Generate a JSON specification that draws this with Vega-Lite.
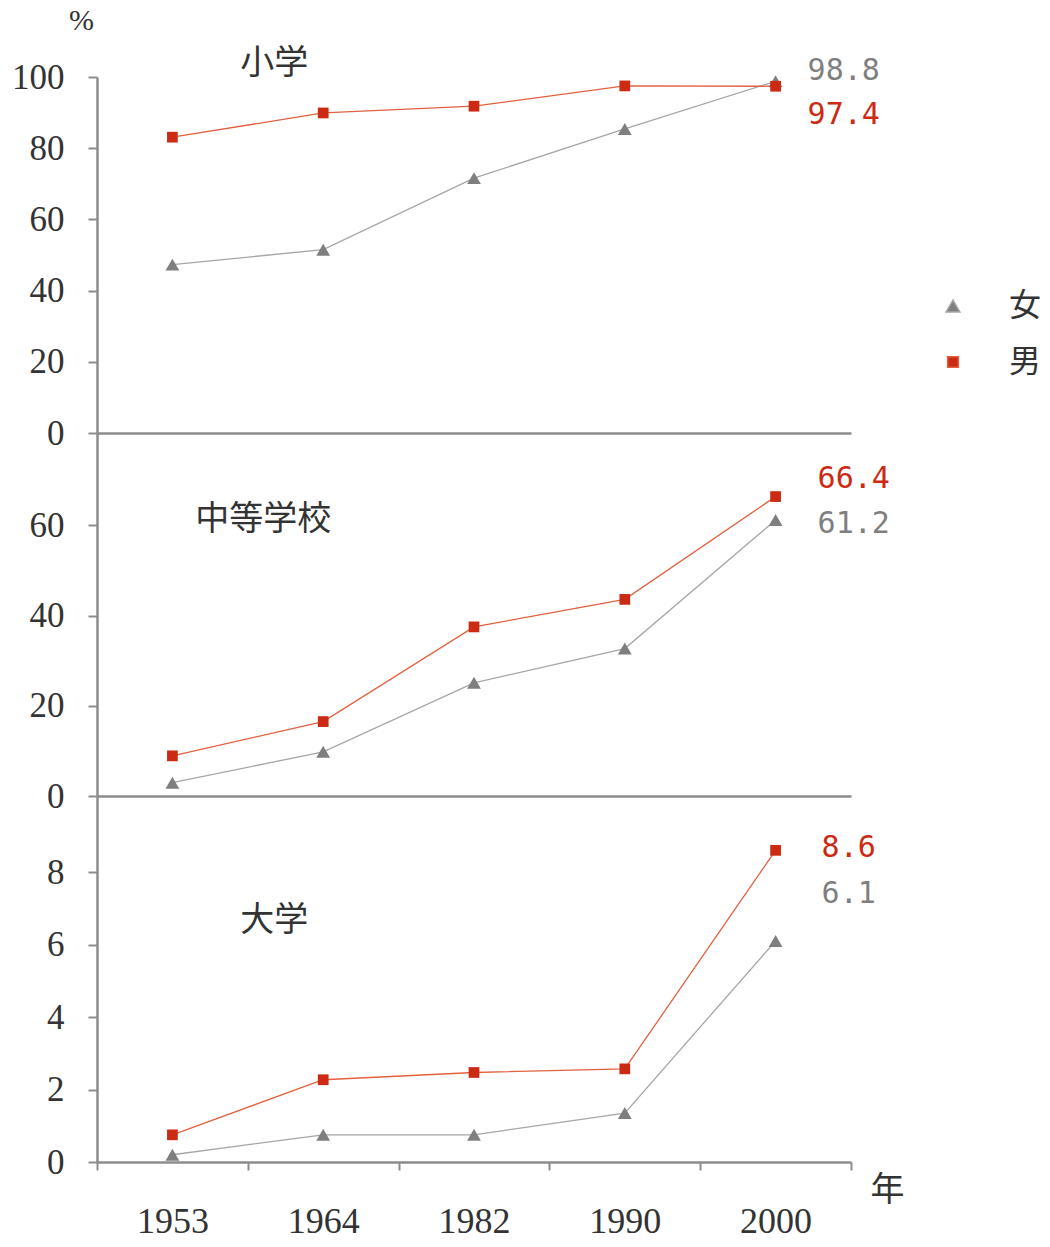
{
  "$schema": "https://vega.github.io/schema/vega-lite/v6.json",
  "background": "white",
  "padding": {"left": 11, "top": 5, "right": 5, "bottom": 5},
  "bounds": "flush",
  "spacing": 0,
  "config": {
    "view": {"stroke": null},
    "axis": {
      "grid": false,
      "domainColor": "#8c8c8c",
      "domainWidth": 2.5,
      "tickColor": "#8c8c8c",
      "tickWidth": 2,
      "labelColor": "#333333",
      "labelFont": "Liberation Serif",
      "labelFontSize": 35,
      "titleFont": "Liberation Serif",
      "titleFontWeight": "normal",
      "titleColor": "#333333"
    },
    "axisY": {"tickSize": 9, "labelPadding": 24},
    "legend": {
      "orient": "none", "legendX": 840, "legendY": 213, "title": null,
      "symbolSize": 900, "labelFont": "Noto Sans CJK JP", "labelFontSize": 32, "labelColor": "#333333",
      "labelOffset": 40, "rowPadding": 24
    }
  },
  "datasets": {
    "edu": [
      {"level": "小学", "sex": "女", "year": "1953", "value": 47.3},
      {"level": "小学", "sex": "女", "year": "1964", "value": 51.5},
      {"level": "小学", "sex": "女", "year": "1982", "value": 71.6},
      {"level": "小学", "sex": "女", "year": "1990", "value": 85.4},
      {"level": "小学", "sex": "女", "year": "2000", "value": 98.8},
      {"level": "小学", "sex": "男", "year": "1953", "value": 83.1},
      {"level": "小学", "sex": "男", "year": "1964", "value": 89.9},
      {"level": "小学", "sex": "男", "year": "1982", "value": 91.8},
      {"level": "小学", "sex": "男", "year": "1990", "value": 97.5},
      {"level": "小学", "sex": "男", "year": "2000", "value": 97.4},
      {"level": "中等学校", "sex": "女", "year": "1953", "value": 2.95},
      {"level": "中等学校", "sex": "女", "year": "1964", "value": 9.8},
      {"level": "中等学校", "sex": "女", "year": "1982", "value": 25.1},
      {"level": "中等学校", "sex": "女", "year": "1990", "value": 32.7},
      {"level": "中等学校", "sex": "女", "year": "2000", "value": 61.2},
      {"level": "中等学校", "sex": "男", "year": "1953", "value": 8.9},
      {"level": "中等学校", "sex": "男", "year": "1964", "value": 16.5},
      {"level": "中等学校", "sex": "男", "year": "1982", "value": 37.5},
      {"level": "中等学校", "sex": "男", "year": "1990", "value": 43.6},
      {"level": "中等学校", "sex": "男", "year": "2000", "value": 66.4},
      {"level": "大学", "sex": "女", "year": "1953", "value": 0.2},
      {"level": "大学", "sex": "女", "year": "1964", "value": 0.75},
      {"level": "大学", "sex": "女", "year": "1982", "value": 0.75},
      {"level": "大学", "sex": "女", "year": "1990", "value": 1.35},
      {"level": "大学", "sex": "女", "year": "2000", "value": 6.1},
      {"level": "大学", "sex": "男", "year": "1953", "value": 0.75},
      {"level": "大学", "sex": "男", "year": "1964", "value": 2.27},
      {"level": "大学", "sex": "男", "year": "1982", "value": 2.47},
      {"level": "大学", "sex": "男", "year": "1990", "value": 2.57},
      {"level": "大学", "sex": "男", "year": "2000", "value": 8.6}
    ]
  },
  "vconcat": [
    {
      "width": 754,
      "height": 356,
      "layer": [
        {
          "data": {"name": "edu"},
          "transform": [{"filter": "datum.level === '小学'"}],
          "mark": {"type": "line", "strokeWidth": 1.3},
          "encoding": {
            "x": {"field": "year", "type": "ordinal", "bandPosition": 0.5, "scale": {"type": "band", "paddingInner": 0, "paddingOuter": 0}, "axis": {"title": null, "labels": false, "ticks": false}},
            "y": {"field": "value", "type": "quantitative", "scale": {"domain": [0, 100], "nice": false, "zero": true},
                  "axis": {"values": [0, 20, 40, 60, 80, 100], "title": "%", "titleAngle": 0, "titleX": -16, "titleY": -57, "titleAlign": "center", "titleBaseline": "middle", "titleFontSize": 30}},
            "stroke": {"field": "sex", "type": "nominal", "scale": {"domain": ["女", "男"], "range": ["#a6a6a6", "#e2603e"]}}
          }
        },
        {
          "data": {"name": "edu"},
          "transform": [{"filter": "datum.level === '小学'"}],
          "mark": {"type": "point", "filled": true, "opacity": 1},
          "encoding": {
            "x": {"field": "year", "type": "ordinal", "bandPosition": 0.5},
            "y": {"field": "value", "type": "quantitative"},
            "fill": {"field": "sex", "type": "nominal", "scale": {"domain": ["女", "男"], "range": ["#7f7f7f", "#cc2a12"]}},
            "size": {"field": "sex", "type": "nominal", "scale": {"domain": ["女", "男"], "range": [190, 115]}},
            "shape": {"field": "sex", "type": "nominal", "scale": {"domain": ["女", "男"], "range": ["triangle-up", "square"]}}
          }
        },
        {
          "data": {"name": "edu"},
          "transform": [{"filter": "datum.level === '小学' && datum.year === '2000'"}, {"joinaggregate": [{"op": "max", "field": "value", "as": "vmax"}]}, {"filter": "datum.value === datum.vmax"}],
          "mark": {"type": "text", "align": "left", "baseline": "middle", "font": "DejaVu Sans Mono", "fontSize": 30, "dx": 32, "dy": -10},
          "encoding": {
            "x": {"field": "year", "type": "ordinal", "bandPosition": 0.5},
            "y": {"field": "vmax", "type": "quantitative"},
            "text": {"field": "value", "type": "quantitative", "format": ".1f"},
            "fill": {"field": "sex", "type": "nominal"}
          }
        },
        {
          "data": {"name": "edu"},
          "transform": [{"filter": "datum.level === '小学' && datum.year === '2000'"}, {"joinaggregate": [{"op": "max", "field": "value", "as": "vmax"}]}, {"filter": "datum.value < datum.vmax"}],
          "mark": {"type": "text", "align": "left", "baseline": "middle", "font": "DejaVu Sans Mono", "fontSize": 30, "dx": 32, "dy": 34},
          "encoding": {
            "x": {"field": "year", "type": "ordinal", "bandPosition": 0.5},
            "y": {"field": "vmax", "type": "quantitative"},
            "text": {"field": "value", "type": "quantitative", "format": ".1f"},
            "fill": {"field": "sex", "type": "nominal"}
          }
        },
        {
          "data": {"values": [{"t": "小学"}]},
          "mark": {"type": "text", "align": "center", "baseline": "middle", "font": "Noto Sans CJK JP", "fontSize": 34, "color": "#333333", "dx": -49},
          "encoding": {
            "x": {"datum": "1964", "type": "ordinal", "bandPosition": 0.5},
            "y": {"datum": 103.6, "type": "quantitative"},
            "text": {"field": "t", "type": "nominal"}
          }
        }
      ]
    },
    {
      "width": 754,
      "height": 363,
      "layer": [
        {
          "data": {"name": "edu"},
          "transform": [{"filter": "datum.level === '中等学校'"}],
          "mark": {"type": "line", "strokeWidth": 1.3},
          "encoding": {
            "x": {"field": "year", "type": "ordinal", "bandPosition": 0.5, "scale": {"type": "band", "paddingInner": 0, "paddingOuter": 0}, "axis": {"title": null, "labels": false, "ticks": false}},
            "y": {"field": "value", "type": "quantitative", "scale": {"domain": [0, 80.5], "nice": false}, "axis": {"values": [0, 20, 40, 60], "title": null}},
            "stroke": {"field": "sex", "type": "nominal", "scale": {"domain": ["女", "男"], "range": ["#a6a6a6", "#e2603e"]}}
          }
        },
        {
          "data": {"name": "edu"},
          "transform": [{"filter": "datum.level === '中等学校'"}],
          "mark": {"type": "point", "filled": true, "opacity": 1},
          "encoding": {
            "x": {"field": "year", "type": "ordinal", "bandPosition": 0.5},
            "y": {"field": "value", "type": "quantitative"},
            "fill": {"field": "sex", "type": "nominal", "scale": {"domain": ["女", "男"], "range": ["#7f7f7f", "#cc2a12"]}},
            "size": {"field": "sex", "type": "nominal", "scale": {"domain": ["女", "男"], "range": [190, 115]}},
            "shape": {"field": "sex", "type": "nominal", "scale": {"domain": ["女", "男"], "range": ["triangle-up", "square"]}}
          }
        },
        {
          "data": {"name": "edu"},
          "transform": [{"filter": "datum.level === '中等学校' && datum.year === '2000'"}, {"joinaggregate": [{"op": "max", "field": "value", "as": "vmax"}]}, {"filter": "datum.value === datum.vmax"}],
          "mark": {"type": "text", "align": "left", "baseline": "middle", "font": "DejaVu Sans Mono", "fontSize": 30, "dx": 42, "dy": -18},
          "encoding": {
            "x": {"field": "year", "type": "ordinal", "bandPosition": 0.5},
            "y": {"field": "vmax", "type": "quantitative"},
            "text": {"field": "value", "type": "quantitative", "format": ".1f"},
            "fill": {"field": "sex", "type": "nominal"}
          }
        },
        {
          "data": {"name": "edu"},
          "transform": [{"filter": "datum.level === '中等学校' && datum.year === '2000'"}, {"joinaggregate": [{"op": "max", "field": "value", "as": "vmax"}]}, {"filter": "datum.value < datum.vmax"}],
          "mark": {"type": "text", "align": "left", "baseline": "middle", "font": "DejaVu Sans Mono", "fontSize": 30, "dx": 42, "dy": 27},
          "encoding": {
            "x": {"field": "year", "type": "ordinal", "bandPosition": 0.5},
            "y": {"field": "vmax", "type": "quantitative"},
            "text": {"field": "value", "type": "quantitative", "format": ".1f"},
            "fill": {"field": "sex", "type": "nominal"}
          }
        },
        {
          "data": {"values": [{"t": "中等学校"}]},
          "mark": {"type": "text", "align": "center", "baseline": "middle", "font": "Noto Sans CJK JP", "fontSize": 34, "color": "#333333", "dx": -60},
          "encoding": {
            "x": {"datum": "1964", "type": "ordinal", "bandPosition": 0.5},
            "y": {"datum": 61.3, "type": "quantitative"},
            "text": {"field": "t", "type": "nominal"}
          }
        }
      ]
    },
    {
      "width": 754,
      "height": 366,
      "layer": [
        {
          "data": {"name": "edu"},
          "transform": [{"filter": "datum.level === '大学'"}],
          "mark": {"type": "line", "strokeWidth": 1.3},
          "encoding": {
            "x": {"field": "year", "type": "ordinal", "bandPosition": 0.5, "scale": {"type": "band", "paddingInner": 0, "paddingOuter": 0},
                  "axis": {"labelAngle": 0, "tickBand": "extent", "ticks": true, "tickSize": 8, "labelPadding": 34, "labelFontSize": 36,
                           "title": "年", "titleFont": "Noto Sans CJK JP", "titleFontSize": 34, "titleX": 790, "titleY": 28, "titleAlign": "center", "titleBaseline": "middle", "titleAngle": 0}},
            "y": {"field": "value", "type": "quantitative", "scale": {"domain": [0, 10.1], "nice": false}, "axis": {"values": [0, 2, 4, 6, 8], "title": null}},
            "stroke": {"field": "sex", "type": "nominal", "scale": {"domain": ["女", "男"], "range": ["#a6a6a6", "#e2603e"]}}
          }
        },
        {
          "data": {"name": "edu"},
          "transform": [{"filter": "datum.level === '大学'"}],
          "mark": {"type": "point", "filled": true, "opacity": 1},
          "encoding": {
            "x": {"field": "year", "type": "ordinal", "bandPosition": 0.5},
            "y": {"field": "value", "type": "quantitative"},
            "fill": {"field": "sex", "type": "nominal", "scale": {"domain": ["女", "男"], "range": ["#7f7f7f", "#cc2a12"]}},
            "size": {"field": "sex", "type": "nominal", "scale": {"domain": ["女", "男"], "range": [190, 115]}},
            "shape": {"field": "sex", "type": "nominal", "scale": {"domain": ["女", "男"], "range": ["triangle-up", "square"]}}
          }
        },
        {
          "data": {"name": "edu"},
          "transform": [{"filter": "datum.level === '大学' && datum.year === '2000'"}, {"joinaggregate": [{"op": "max", "field": "value", "as": "vmax"}]}, {"filter": "datum.value === datum.vmax"}],
          "mark": {"type": "text", "align": "left", "baseline": "middle", "font": "DejaVu Sans Mono", "fontSize": 30, "dx": 46, "dy": -2},
          "encoding": {
            "x": {"field": "year", "type": "ordinal", "bandPosition": 0.5},
            "y": {"field": "vmax", "type": "quantitative"},
            "text": {"field": "value", "type": "quantitative", "format": ".1f"},
            "fill": {"field": "sex", "type": "nominal"}
          }
        },
        {
          "data": {"name": "edu"},
          "transform": [{"filter": "datum.level === '大学' && datum.year === '2000'"}, {"joinaggregate": [{"op": "max", "field": "value", "as": "vmax"}]}, {"filter": "datum.value < datum.vmax"}],
          "mark": {"type": "text", "align": "left", "baseline": "middle", "font": "DejaVu Sans Mono", "fontSize": 30, "dx": 46, "dy": 44},
          "encoding": {
            "x": {"field": "year", "type": "ordinal", "bandPosition": 0.5},
            "y": {"field": "vmax", "type": "quantitative"},
            "text": {"field": "value", "type": "quantitative", "format": ".1f"},
            "fill": {"field": "sex", "type": "nominal"}
          }
        },
        {
          "data": {"values": [{"t": "大学"}]},
          "mark": {"type": "text", "align": "center", "baseline": "middle", "font": "Noto Sans CJK JP", "fontSize": 34, "color": "#333333", "dx": -49},
          "encoding": {
            "x": {"datum": "1964", "type": "ordinal", "bandPosition": 0.5},
            "y": {"datum": 6.65, "type": "quantitative"},
            "text": {"field": "t", "type": "nominal"}
          }
        }
      ]
    }
  ]
}
